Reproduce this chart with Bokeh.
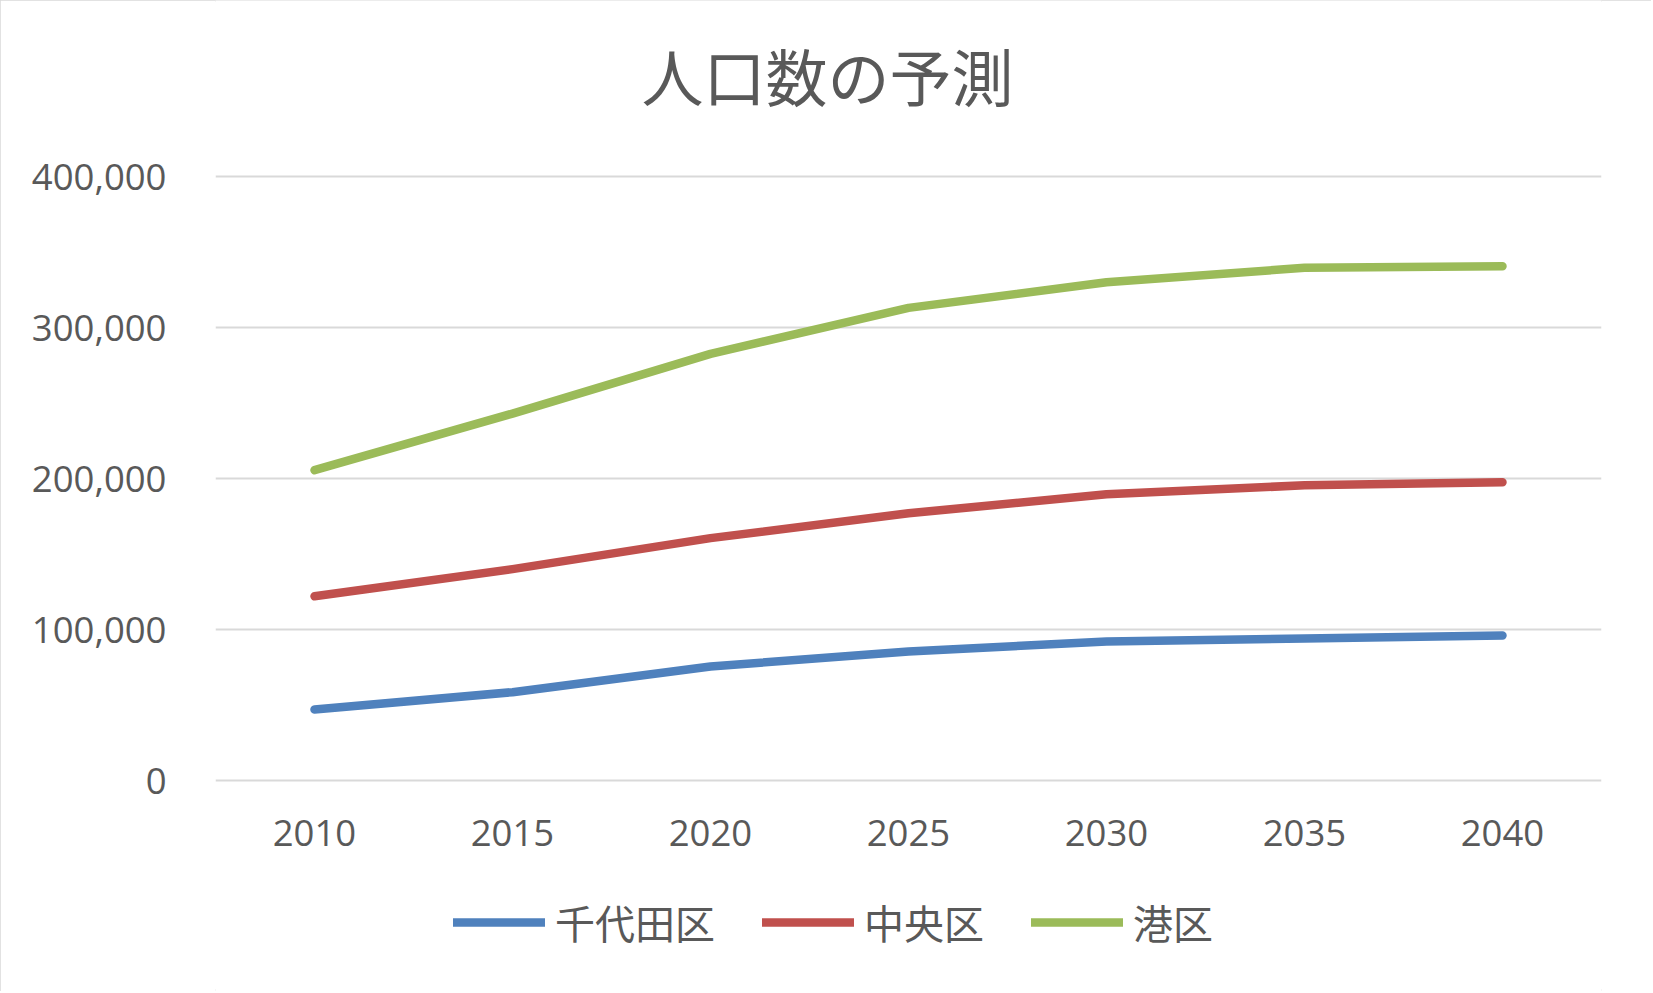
from bokeh.plotting import figure
from bokeh.models import (ColumnDataSource, FactorRange, Range1d, FixedTicker,
                          NumeralTickFormatter, Legend, LegendItem, Label)
from bokeh.embed import file_html
from bokeh.resources import INLINE

# ---- data ----
years = ["2010", "2015", "2020", "2025", "2030", "2035", "2040"]
chiyoda = [47000, 58500, 75500, 85500, 92000, 94000, 96000]
chuo = [122000, 140000, 160500, 177000, 189500, 195500, 197500]
minato = [205500, 243000, 282500, 313000, 330000, 339500, 340500]
series_names = ["千代田区", "中央区", "港区"]
series_colors = ["#4F81BD", "#C0504D", "#9BBB59"]
y_ticks = [0, 100000, 200000, 300000, 400000]
title_text = "人口数の予測"

W, H = 1651, 991
FRAME_W = 1386
# frame spans the full height; value 0 sits at 780px, 400,000 at 176px
upp = 400000 / 604.0
p = figure(width=W, height=H, x_range=FactorRange(factors=years, range_padding=0),
           y_range=Range1d(-(H - 780) * upp, 780 * upp), output_backend="svg",
           toolbar_location=None, title=None,
           min_border_left=215, min_border_right=W - 215 - FRAME_W,
           min_border_top=0, min_border_bottom=0)
p.styles = {"outline": "2px solid #D9D9D9", "outline-offset": "-2px"}
p.outline_line_color = None
p.background_fill_color = "white"
p.border_fill_color = "white"

# grid
p.xgrid.grid_line_color = None
p.ygrid.grid_line_color = "#D9D9D9"
p.ygrid.grid_line_width = 2
p.ygrid.ticker = FixedTicker(ticks=y_ticks)

# axes
TXT = "#595959"
p.yaxis.ticker = FixedTicker(ticks=y_ticks)
p.yaxis.formatter = NumeralTickFormatter(format="0,0")
for ax in (p.xaxis[0], p.yaxis[0]):
    ax.axis_line_color = None
    ax.major_tick_line_color = None
    ax.minor_tick_line_color = None
    ax.major_tick_out = 0
    ax.major_tick_in = 0
    ax.major_label_text_font = "Open Sans"
    ax.major_label_text_font_size = "36.5px"
    ax.major_label_text_color = TXT
p.yaxis.major_label_standoff = 49
p.xaxis.fixed_location = 0
p.xaxis.major_label_standoff = 39

renderers = []
for name, vals, col in zip(series_names, [chiyoda, chuo, minato], series_colors):
    src = ColumnDataSource(dict(x=years, y=vals))
    r = p.line("x", "y", source=src, line_color=col, line_width=8.5,
               line_cap="round", line_join="round")
    renderers.append((name, r))

legend = Legend(items=[LegendItem(label=n, renderers=[r]) for n, r in renderers],
                orientation="horizontal", location=(238, 42 - (993 - H)),
                glyph_width=92, glyph_height=40, label_height=40,
                label_standoff=10, spacing=47, padding=0, margin=0,
                border_line_color=None, background_fill_alpha=0,
                label_text_font="Noto Sans CJK JP", label_text_font_size="40px",
                label_text_color=TXT)
p.add_layout(legend, "center")

title = Label(x=3.091, y=(780 - 74) * upp, text=title_text, text_align="center",
              text_baseline="middle", text_font="Noto Sans CJK JP",
              text_font_size="62px", text_color=TXT)
p.add_layout(title)

open("out.html", "w").write(file_html(p, INLINE))
